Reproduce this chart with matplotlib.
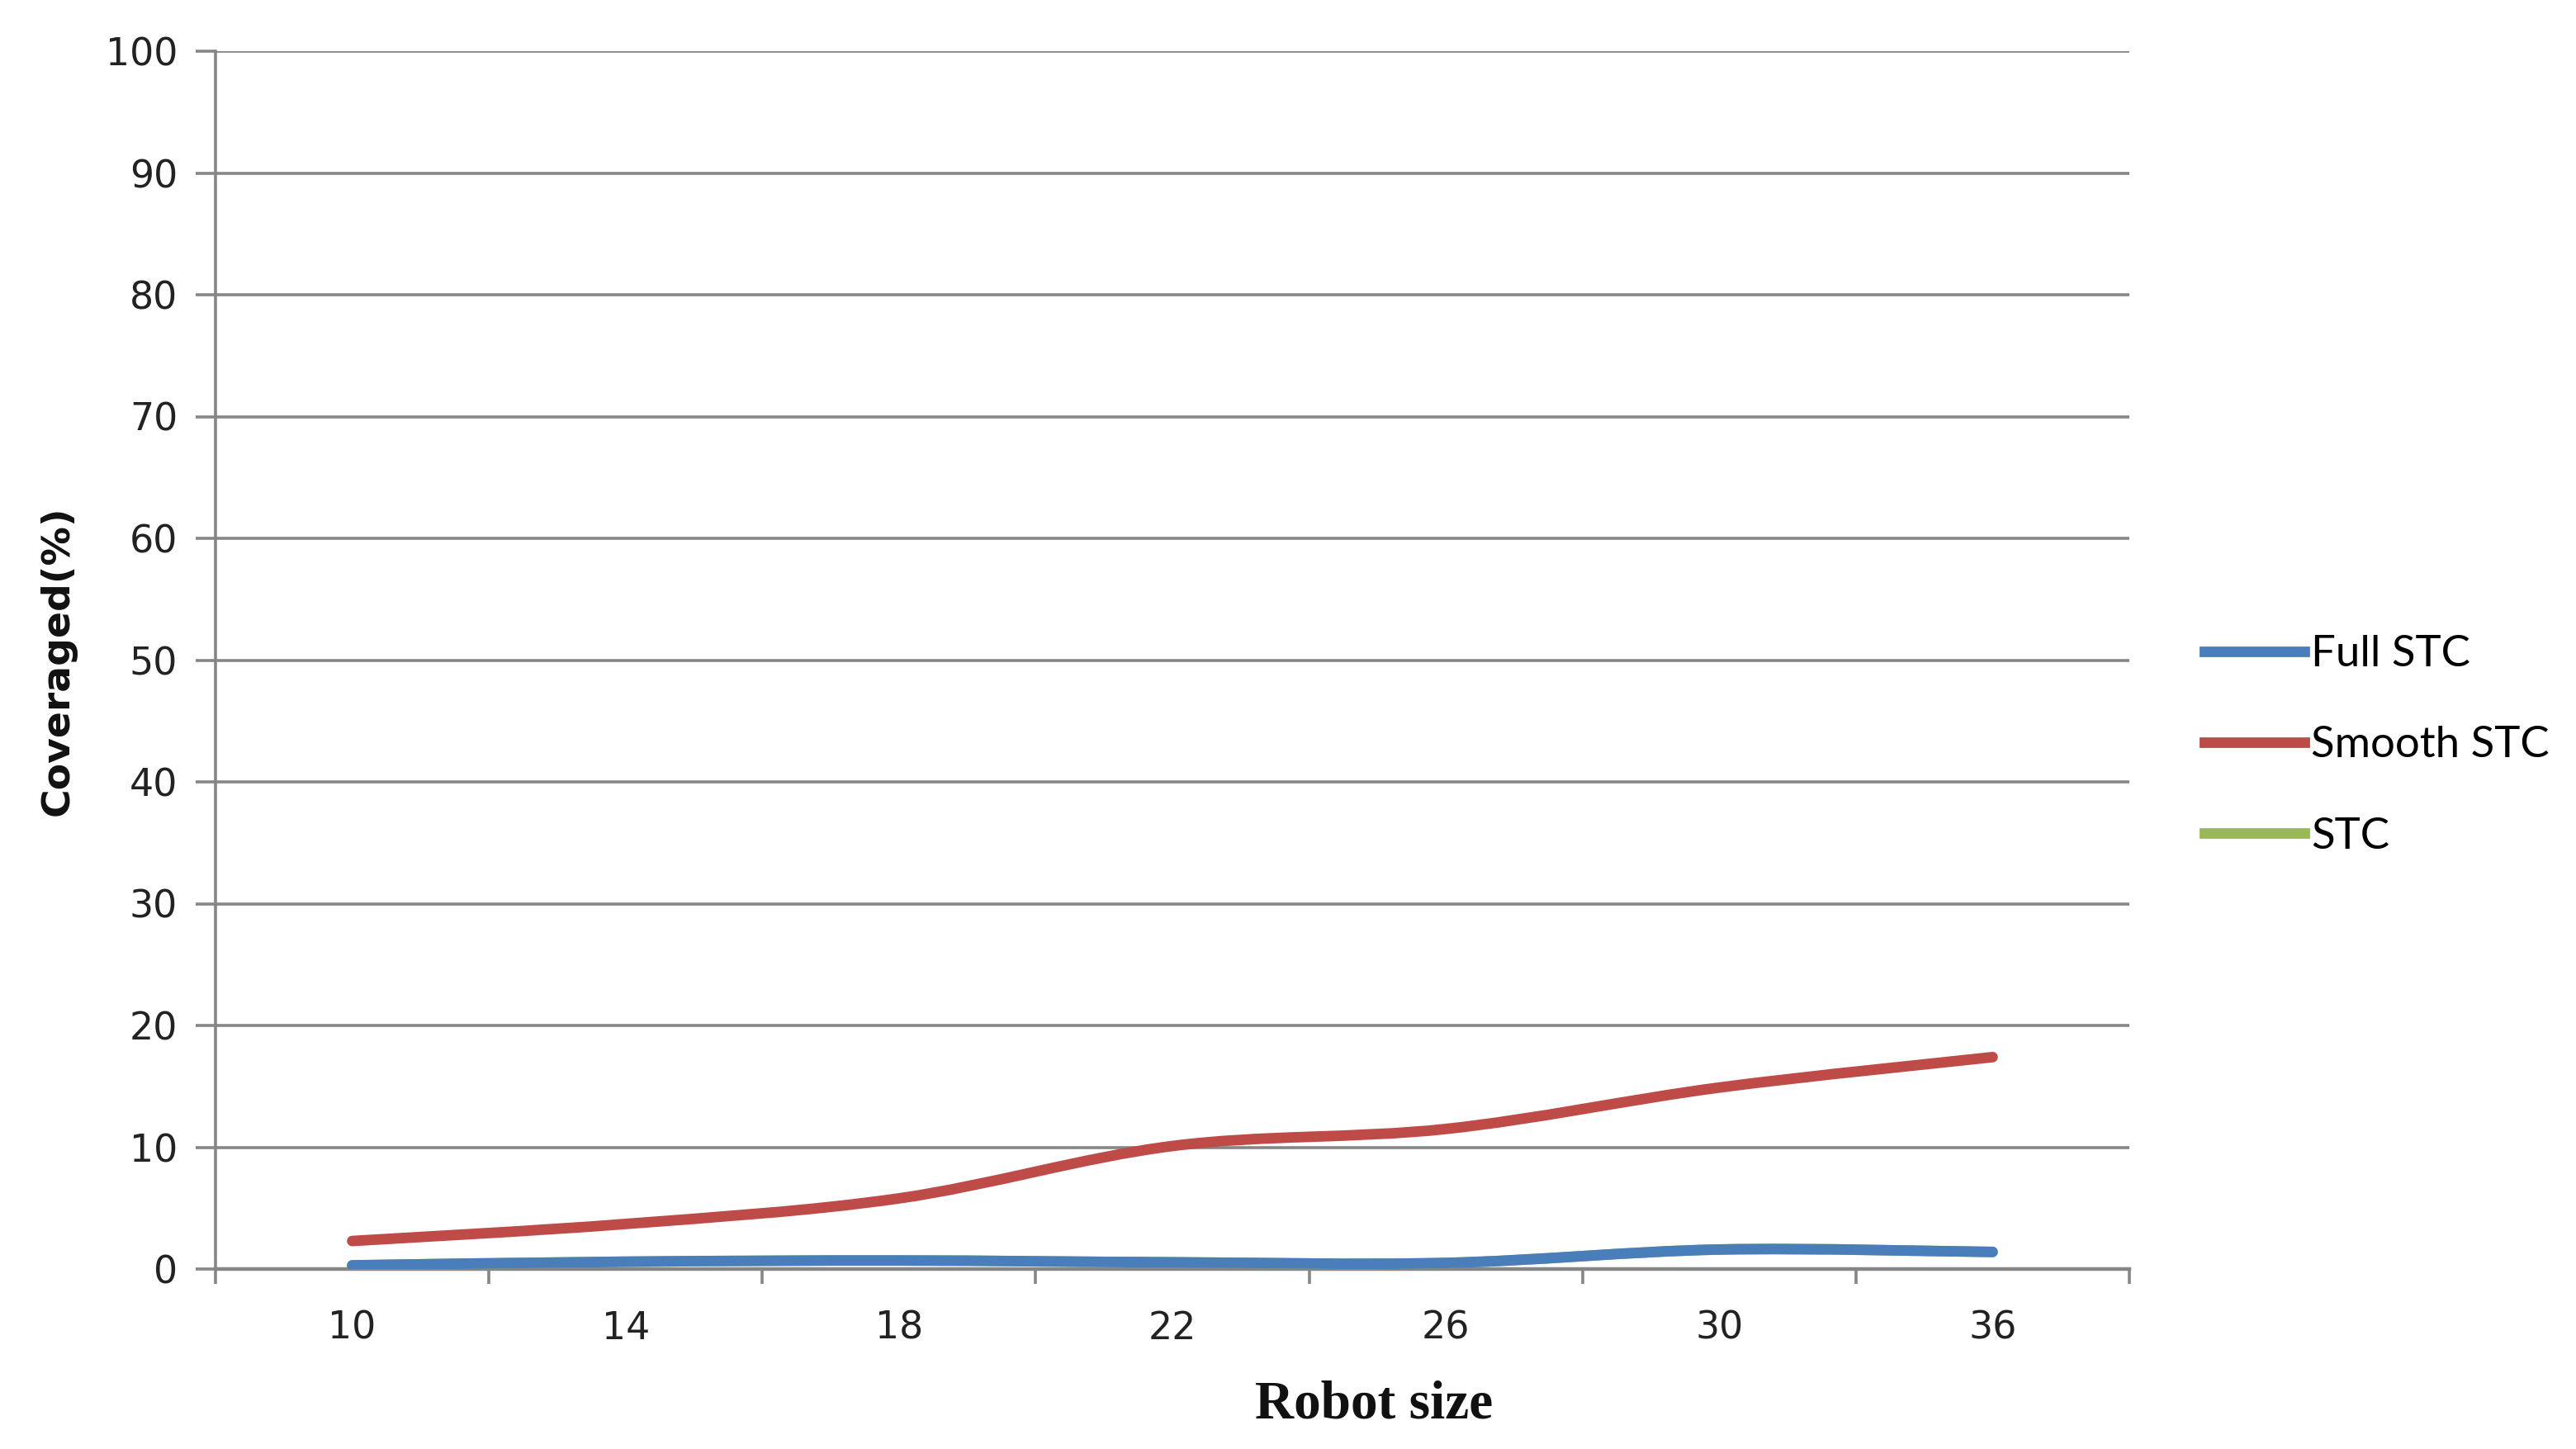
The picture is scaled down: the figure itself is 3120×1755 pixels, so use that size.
import matplotlib
matplotlib.use("Agg")
import matplotlib.pyplot as plt
from matplotlib.path import Path
from matplotlib.patches import PathPatch
from matplotlib.lines import Line2D
import matplotlib.ticker as mticker

# ── Data ─────────────────────────────────────────────────────────────────────
robot_sizes = ["10", "14", "18", "22", "26", "30", "36"]
full_stc = [0.3, 0.6, 0.7, 0.55, 0.5, 1.6, 1.4]
smooth_stc = [2.3, 3.7, 5.8, 10.1, 11.5, 14.9, 17.4]
stc = [0.3, 0.6, 0.7, 0.55, 0.5, 1.6, 1.4]   # hidden under Full STC

series_names = ["Full STC", "Smooth STC", "STC"]

# ── Style ────────────────────────────────────────────────────────────────────
COLORS = {"Full STC": "#4A7EBB", "Smooth STC": "#BE4B48", "STC": "#98B954"}
GRID_COLOR = "#868686"
LINE_W = 4.6


def smooth_path(xs, ys):
    """Excel-like smoothed line as a cubic Bezier path."""
    pts = list(zip(xs, ys))
    n = len(pts)
    verts = [pts[0]]
    codes = [Path.MOVETO]
    for i in range(n - 1):
        p0 = pts[i - 1] if i > 0 else pts[i]
        p1 = pts[i]
        p2 = pts[i + 1]
        p3 = pts[i + 2] if i + 2 < n else pts[i + 1]
        c1 = (p1[0] + (p2[0] - p0[0]) / 6, p1[1] + (p2[1] - p0[1]) / 6)
        c2 = (p2[0] - (p3[0] - p1[0]) / 6, p2[1] - (p3[1] - p1[1]) / 6)
        verts += [c1, c2, p2]
        codes += [Path.CURVE4] * 3
    return Path(verts, codes)


fig = plt.figure(figsize=(15.6, 8.775), dpi=200, facecolor="white")
ax = fig.add_axes([261 / 3120, 1 - 1537 / 1755, (2579 - 261) / 3120, (1537 - 62) / 1755])

x = list(range(len(robot_sizes)))
for name, vals in [("STC", stc), ("Full STC", full_stc), ("Smooth STC", smooth_stc)]:
    patch = PathPatch(smooth_path(x, vals), facecolor="none", edgecolor=COLORS[name],
                      linewidth=LINE_W, capstyle="round", joinstyle="round", zorder=3)
    ax.add_patch(patch)

ax.set_xlim(-0.5, len(robot_sizes) - 0.5)
ax.set_ylim(0, 100)

# y axis
ax.yaxis.set_major_locator(mticker.MultipleLocator(10))
ax.grid(axis="y", color=GRID_COLOR, linewidth=1.3, zorder=1)
ax.tick_params(axis="y", length=8.5, width=1.3, color=GRID_COLOR, pad=8,
               labelsize=16.5, labelcolor="#222222")

# x axis: ticks at category boundaries, labels at category centres
ax.xaxis.set_major_locator(mticker.FixedLocator([i - 0.5 for i in range(len(robot_sizes) + 1)]))
ax.xaxis.set_major_formatter(mticker.NullFormatter())
ax.xaxis.set_minor_locator(mticker.FixedLocator(x))
ax.xaxis.set_minor_formatter(mticker.FixedFormatter(robot_sizes))
ax.tick_params(axis="x", which="major", length=6.5, width=1.3, color=GRID_COLOR)
ax.tick_params(axis="x", which="minor", length=0, pad=18, labelsize=16.5, labelcolor="#222222")

for side in ["top", "right"]:
    ax.spines[side].set_visible(False)
ax.spines["left"].set_color(GRID_COLOR)
ax.spines["left"].set_linewidth(1.3)
ax.spines["bottom"].set_color(GRID_COLOR)
ax.spines["bottom"].set_linewidth(1.6)

fig.text(70 / 3120, 1 - 800 / 1755, "Coveraged(%)", rotation=90, ha="center", va="center",
         fontsize=17, fontweight="bold", color="#111111")
fig.text(1664 / 3120, 1 - 1701 / 1755, "Robot size", ha="center", va="center",
         fontsize=23.5, fontweight="bold", family="Liberation Serif", color="#111111")

handles = [Line2D([], [], color=COLORS[n], linewidth=LINE_W) for n in series_names]
fig.legend(handles, series_names, loc="center left",
           bbox_to_anchor=(2670 / 3120, 1 - 903 / 1755), frameon=False,
           borderpad=0, borderaxespad=0, handlelength=2.3, handletextpad=0.15,
           labelspacing=1.2, prop={"family": "Lato", "size": 19})

plt.savefig("out.png", dpi=200, facecolor="white")
plt.close()
